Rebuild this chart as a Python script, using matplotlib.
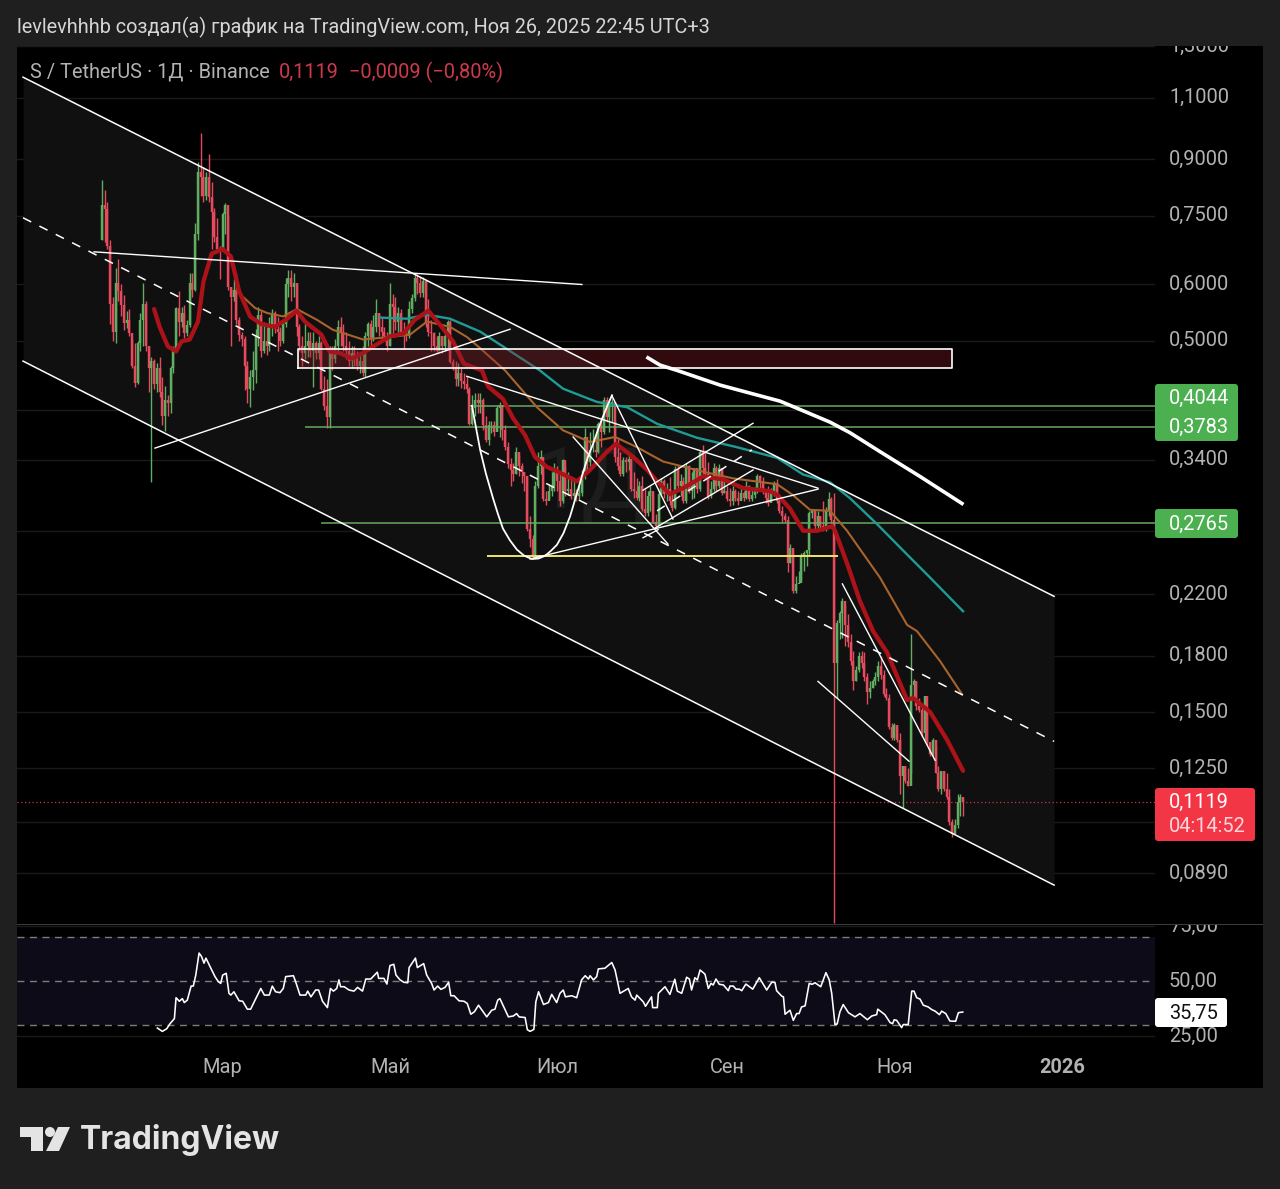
import matplotlib
matplotlib.use("Agg")
import matplotlib.pyplot as plt
import numpy as np
from matplotlib.patches import Rectangle, FancyBboxPatch, Polygon, Circle
from matplotlib.ticker import NullLocator
from matplotlib.transforms import Affine2D, Bbox, ScaledTranslation

plt.rcParams['font.family'] = ['Roboto', 'DejaVu Sans']

# ---------- data: daily candles, index 0 = 16 Jan 2025 ----------
first_open = 0.694
closes = [
 .777,.767,.679,.564,.515,.602,.587,.561,.530,.535,
 .512,.461,.436,.496,.535,.563,.491,.458,.468,.435,
 .458,.423,.392,.412,.409,.458,.483,.556,.532,.547,
 .512,.527,.602,.590,.706,.864,.850,.800,.850,.797,
 .760,.700,.673,.670,.755,.777,.596,.577,.590,.535,
 .510,.502,.461,.428,.445,.454,.507,.543,.483,.499,
 .491,.528,.547,.520,.515,.499,.528,.600,.612,.596,
 .602,.523,.491,.480,.491,.499,.483,.496,.480,.496,
 .428,.405,.390,.483,.471,.491,.523,.515,.491,.483,
 .468,.480,.471,.461,.468,.451,.507,.528,.502,.523,
 .547,.523,.515,.507,.491,.564,.558,.532,.547,.515,
 .512,.507,.554,.574,.612,.602,.583,.606,.528,.515,
 .512,.491,.483,.507,.491,.507,.532,.466,.459,.442,
 .451,.439,.435,.428,.382,.402,.412,.408,.412,.380,
 .362,.380,.381,.372,.402,.406,.374,.354,.335,.329,
 .325,.349,.333,.327,.322,.272,.263,.248,.312,.333,
 .343,.299,.297,.307,.312,.329,.317,.297,.340,.307,
 .309,.302,.305,.302,.305,.322,.366,.338,.351,.351,
 .349,.382,.372,.413,.390,.406,.410,.343,.333,.325,
 .340,.338,.341,.309,.307,.300,.312,.290,.286,.302,
 .307,.278,.274,.304,.317,.304,.309,.297,.291,.330,
 .312,.317,.297,.333,.307,.312,.331,.309,.349,.331,
 .325,.302,.309,.331,.312,.331,.305,.307,.299,.297,
 .307,.300,.297,.305,.300,.312,.299,.303,.307,.322,
 .317,.307,.300,.295,.307,.315,.297,.288,.283,.280,
 .243,.255,.222,.227,.228,.250,.251,.254,.286,.288,
 .274,.283,.274,.272,.288,.299,.280,.176,.200,.207,
 .215,.199,.188,.177,.166,.172,.180,.176,.168,.160,
 .162,.166,.168,.174,.169,.159,.157,.143,.138,.144,
 .137,.122,.126,.120,.118,.164,.166,.153,.151,.140,
 .158,.136,.131,.137,.123,.117,.124,.117,.114,.105,
 .101,.104,.112,.114,.1119]
highs = [
 .842,.814,.784,.694,.577,.633,.652,.600,.580,.551,
 .554,.503,.496,.499,.547,.602,.568,.491,.475,.471,
 .465,.475,.445,.432,.419,.461,.491,.558,.587,.558,
 .562,.535,.622,.622,.733,.893,.981,.878,.864,.915,
 .837,.770,.745,.679,.758,.782,.750,.596,.610,.622,
 .540,.515,.507,.468,.454,.483,.519,.558,.551,.532,
 .523,.540,.554,.551,.540,.523,.535,.612,.629,.629,
 .622,.602,.528,.507,.528,.515,.515,.515,.499,.507,
 .499,.446,.442,.491,.491,.502,.535,.540,.528,.515,
 .499,.491,.491,.483,.480,.491,.515,.532,.535,.543,
 .572,.547,.540,.523,.515,.602,.581,.577,.558,.554,
 .532,.523,.568,.581,.620,.620,.616,.614,.606,.572,
 .535,.515,.507,.515,.507,.515,.535,.535,.471,.468,
 .465,.457,.451,.446,.431,.419,.422,.422,.422,.415,
 .392,.386,.386,.386,.406,.410,.406,.380,.360,.342,
 .336,.354,.345,.336,.327,.323,.283,.266,.317,.349,
 .351,.336,.307,.314,.327,.336,.333,.327,.341,.333,
 .327,.322,.317,.309,.312,.329,.377,.360,.372,.375,
 .370,.384,.390,.417,.417,.413,.415,.387,.364,.349,
 .343,.343,.349,.340,.327,.320,.317,.322,.309,.307,
 .312,.305,.285,.307,.320,.319,.315,.321,.305,.333,
 .333,.325,.321,.336,.334,.327,.331,.329,.351,.357,
 .351,.338,.317,.336,.333,.335,.331,.319,.312,.310,
 .312,.309,.307,.310,.307,.317,.313,.311,.311,.325,
 .324,.321,.307,.312,.310,.317,.319,.299,.293,.286,
 .283,.259,.254,.233,.237,.251,.253,.254,.288,.290,
 .288,.288,.283,.297,.292,.306,.301,.305,.202,.208,
 .217,.212,.206,.193,.183,.174,.182,.183,.182,.170,
 .166,.167,.171,.177,.180,.172,.162,.159,.145,.145,
 .144,.140,.126,.126,.125,.193,.167,.166,.157,.153,
 .158,.149,.136,.138,.135,.126,.124,.124,.123,.117,
 .106,.106,.115,.115,.113]
lows = [
 .694,.689,.673,.528,.499,.497,.568,.541,.517,.521,
 .507,.457,.431,.435,.483,.491,.483,.423,.316,.428,
 .423,.417,.380,.373,.392,.396,.451,.483,.507,.523,
 .505,.507,.523,.577,.587,.694,.800,.784,.790,.784,
 .673,.689,.670,.610,.670,.706,.590,.491,.568,.528,
 .499,.491,.426,.408,.403,.426,.436,.491,.475,.480,
 .478,.483,.507,.512,.483,.491,.496,.523,.577,.568,
 .577,.507,.483,.461,.471,.475,.475,.431,.471,.471,
 .426,.399,.377,.377,.454,.465,.483,.491,.483,.471,
 .461,.457,.461,.454,.451,.446,.444,.491,.491,.499,
 .515,.507,.502,.499,.483,.491,.507,.518,.515,.507,
 .486,.499,.504,.547,.568,.581,.577,.577,.523,.507,
 .483,.483,.480,.483,.480,.483,.488,.465,.454,.432,
 .432,.429,.428,.422,.380,.380,.392,.396,.396,.374,
 .360,.356,.371,.367,.374,.366,.362,.351,.331,.312,
 .317,.325,.322,.315,.307,.270,.256,.246,.248,.310,
 .325,.297,.294,.300,.302,.307,.307,.293,.295,.302,
 .303,.299,.297,.297,.299,.302,.319,.329,.333,.349,
 .343,.347,.354,.370,.384,.372,.384,.338,.329,.322,
 .322,.327,.329,.307,.300,.298,.297,.288,.283,.283,
 .288,.277,.272,.274,.302,.300,.297,.294,.288,.290,
 .309,.302,.295,.295,.305,.299,.300,.305,.307,.325,
 .321,.299,.300,.307,.307,.310,.303,.305,.297,.293,
 .294,.297,.294,.298,.297,.299,.297,.297,.300,.305,
 .307,.304,.295,.293,.297,.302,.295,.286,.278,.278,
 .236,.243,.221,.221,.228,.230,.237,.241,.249,.281,
 .272,.272,.270,.270,.270,.283,.277,.0757,.157,.190,
 .191,.186,.185,.175,.161,.166,.171,.173,.166,.154,
 .157,.162,.164,.166,.167,.158,.156,.142,.137,.137,
 .136,.115,.110,.119,.118,.123,.157,.151,.150,.139,
 .137,.135,.130,.130,.123,.116,.115,.116,.113,.104,
 .100,.103,.103,.107,.107]

# moving averages (candle index, price)
ma_red_i = [19,21,24,27,29,32,35,37,40,44,47,50,54,58,63,67,71,74,80,83,87,91,95,99,105,110,114,119,123,128,132,138.6,140.8,146.2,149.9,154.3,157.9,162.3,167,173.2,178,184.2,187.5,193.7,198.8,202.4,207.1,211.9,219.2,226.5,233.8,243.6,246.5,250.9,255.7,260.8,266.2,267.3,271.7,276.4,281.2,286.3,293.6,295.8,302,308.2,314]
ma_red_p = [.554,.523,.491,.483,.499,.502,.532,.606,.663,.673,.657,.587,.541,.528,.523,.535,.551,.532,.510,.483,.480,.472,.480,.491,.507,.512,.535,.551,.528,.499,.464,.454,.431,.414,.389,.368,.343,.332,.326,.317,.329,.349,.358,.343,.329,.317,.304,.310,.322,.319,.310,.307,.303,.290,.270,.270,.274,.270,.243,.215,.195,.182,.156,.157,.150,.137,.124]
ma_brown_i = [49.2,55.8,60.2,66,71.1,78.4,84.2,95.2,105,112.3,118.5,126.9,133.1,137.9,147,158.6,168.1,178,187.1,195.1,204.6,219.2,230.1,246.2,252,258.2,265.5,271.7,283.7,293.6,297.2,305.6,313.6]
ma_brown_p = [.587,.556,.547,.541,.554,.535,.518,.502,.506,.510,.532,.523,.506,.488,.454,.403,.374,.360,.366,.354,.338,.327,.320,.314,.303,.289,.288,.270,.232,.199,.195,.177,.159]
ma_teal_i = [101.4,111.2,118.5,126.9,137.9,159.7,168.1,180.5,191.5,202.4,217,231.6,246.2,255.7,265.5,272.8,282.6,293.6,301.5,314]
ma_teal_p = [.539,.537,.544,.537,.515,.454,.428,.410,.403,.382,.365,.354,.342,.324,.316,.300,.276,.250,.233,.208]
ma_white_i = [199.1,203.5,209.8,225.4,247.3,254.6,265.5,272.8,283.7,298.3,313.6]
ma_white_p = [.473,.462,.454,.433,.411,.400,.384,.371,.349,.322,.295]

# RSI (candle index, value)
rsi_i = [20.2,22,23.6,24.8,26.4,27,28.2,29.3,30,31.1,32.5,33.3,34.2,35.4,36.3,37.2,37.9,39.1,41.2,42.4,43.3,44,45.3,46.3,47,48.1,50,51.3,53,54.2,57.9,59.2,61,62.1,63.3,64.9,66.1,67,69.8,70.6,72.2,74.3,75,76.2,77.9,79,80.4,82.2,83.3,84.4,85.6,86.4,87,88.3,90.1,91.9,93.2,95,96.2,98,100.4,100.9,102.8,103.9,105,106.4,107.2,108.7,110.1,111.5,112,114.3,115,117.3,118.4,120.2,121.1,122.4,123.6,125.1,126.4,127.2,128.4,130.2,132,133.2,134.5,135.8,137.3,140.3,142.1,143.3,144.3,145.1,148.2,150,151.2,152.1,154.3,155.1,156.1,157.5,158.2,159.2,161,162.8,164,165.8,167,168.2,169,171.3,173.1,174.9,176.2,177.4,178,
 179.2,180.4,181,183.4,185.9,187.1,188.9,191.9,193.1,194.4,195,197.4,198.2,200.4,200.8,202.5,202.9,205.3,207.1,208.9,209.8,211.4,213.2,214.2,215,216.2,217.1,218.1,219.9,221.1,222.1,222.9,223.9,225.1,226.6,228.4,229,230.2,231.2,232.4,233.3,234.8,237.3,239.7,242.4,244.2,245.4,246,247.9,248.5,249.1,250.9,252.1,253.3,254.2,255.1,256.4,257.9,259,260,262.1,264,265.2,266.1,267.3,268.1,269.1,270.3,272.2,274.6,276.4,279.1,280.7,282.5,282.9,285.5,287.4,288.3,288.9,289.8,291.6,292.2,294,295.3,296.1,297.1,298.3,299.5,301.3,302.6,303.8,305.4,306.2,307.7,309.2,311.3,312.3,313.9]
rsi_v = [28.6,27.1,28.3,30.6,32.9,42.4,40.8,42,40.2,41.3,47.7,47.7,52.7,62.7,61.1,58.1,60.4,57.3,52,49.7,48.9,52.7,53.5,44.4,43.6,45.1,41,40.8,37.2,37.2,46.6,43.6,43.6,47.7,45.1,44.7,46.6,52,52.4,49.7,43.6,43.6,45.4,42.8,45.9,45.9,40.8,37.9,46.6,45.4,46.6,50.5,47.4,47.4,45.9,45.4,47.1,45.4,50.9,50.9,54,51.2,51.2,48.6,57,57.6,52.7,50.5,49.4,49.2,56.1,60.4,56.1,57.9,52.7,48.9,45.9,47.7,46.2,47.1,49.4,43.3,43.3,41,40.8,39.8,34.9,36,39,33.7,36.7,37.2,41.3,42,33.7,34.1,35.2,33.7,33.4,27.9,27.1,28,40.5,45.1,39.3,40.2,43.9,40.2,44.4,45.9,42.8,43.3,42.4,50.5,52.4,50.9,52.4,
 50.5,52,55.5,55.8,58.4,55,44.4,46.6,42.8,41.3,43.6,40.5,38.5,42.8,37.9,37.9,44.4,47.4,43.9,50.8,45.4,44.4,51.7,50.9,45.9,51.5,50.5,55,53.1,46.6,48.9,48.2,50.9,48.5,48.2,45.6,47.7,47.7,46.3,46.3,45.6,48.6,46.3,51.5,45.9,49.4,49.4,45.6,43.1,42.8,34.9,36.7,32.1,35.2,35.2,38.2,38.7,48.9,48.5,49.2,47.4,53.8,50.5,44.4,30.2,30.5,36,39.3,35.6,33.7,35.2,32.4,34.1,34.7,37.2,34.7,31.1,30.6,32.4,32.1,28.8,30.2,30.2,45.4,45.4,42.4,41.8,39,38.2,37,36.3,34.7,36.3,35.2,31.8,31.7,35.6,35.9]

# axis values
price_ticks = [1.3, 1.1, .9, .75, .6, .5, .4, .34, .27, .22, .18, .15, .125, .105, .089]
price_labels = ['1,3000','1,1000','0,9000','0,7500','0,6000','0,5000','','0,3400','','0,2200','0,1800','0,1500','0,1250','','0,0890']
rsi_ticks = [75, 50, 25]
rsi_labels = ['75,00', '50,00', '25,00']
month_pos = [44, 105, 166, 228, 289, 350]
month_labels = ['Мар', 'Май', 'Июл', 'Сен', 'Ноя', '2026']

# drawings (candle index, price)
channel_i = [-28.8, 347.2]
channel_up = [1.175, .2183]
channel_lo = [.468, .0856]
channel_mid = [.7449, .1364]
white_lines = [
 ([-2.9, 175], [.667, .600]),
 ([19.3, 148.8], [.353, .519]),
 ([133, 261.1], [.4456, .310]),
 ([156.1, 261.1], [.2464, .309]),
 ([186, 208.2], [.418, .2806]),
 ([171.8, 206.4], [.366, .2586]),
 ([197.3, 237.4], [.308, .3826]),
 ([201.7, 237.4], [.2724, .3288]),
 ([197.3, 202.8], [.264, .271]),
 ([270, 303.8], [.2273, .1283]),
 ([261.1, 294.3], [.1657, .1279]),
]
dash_short = ([202.4, 237], [.288, .351])
cup_i = [134.9,136.4,137.9,140,142.6,144.4,146.2,148.7,151.3,154,156.8,159.2,161.6,163.7,165.9,168.3,170.7,173,175.4,177.2,179.1,181,182.7,184.4,186]
cup_p = [.405,.377,.351,.325,.300,.285,.272,.262,.254,.249,.2464,.2468,.249,.253,.258,.268,.283,.303,.326,.343,.358,.376,.391,.406,.419]
levels = [(.4044, 134), (.3783, 74), (.2765, 80)]
yellow_i, yellow_p = [140.4, 268.4], .2487
zone_i, zone_lo, zone_hi = [71.5, 310], .458, .486
last_price = .1119
rsi_last = 35.75

# ---------- figure ----------
W, H = 1280, 1189
fig = plt.figure(figsize=(W/100, H/100), dpi=100, facecolor='#1f1f1f')
PX = Affine2D().scale(1/W, -1/H).translate(0, 1) + fig.transFigure

def box(x0, y0, x1, y1, color, z=-1, r=0):
    if r:
        p = FancyBboxPatch((x0, y0), x1-x0, y1-y0, boxstyle=f'round,pad=0,rounding_size={r}',
                           fc=color, ec='none', transform=PX, zorder=z)
    else:
        p = Rectangle((x0, y0), x1-x0, y1-y0, fc=color, ec='none', transform=PX, zorder=z)
    fig.add_artist(p)

def label(x, y, s, color, size=14.4, z=7, **kw):
    fig.text(x/W, 1-(y+1)/H, s, color=color, fontsize=size, va='center', ha=kw.pop('ha', 'left'), zorder=z, **kw)

box(17, 46, 1263, 1088, '#000000')

ax = fig.add_axes([17/W, 1-924/H, 1138/W, 878/H], facecolor='black')
ax2 = fig.add_axes([17/W, 1-1050/H, 1138/W, 125/H], facecolor='black', sharex=ax)
for a in (ax, ax2):
    for s in a.spines.values():
        s.set_visible(False)
    a.set_axisbelow(True)

ax.set_yscale('log')
ax.set_xlim(-31, 384)
ax.set_ylim(.07546, 1.291)
ax.yaxis.tick_right()
ax.set_yticks(price_ticks)
ax.set_yticklabels(price_labels)
ax.yaxis.set_minor_locator(NullLocator())
ax.tick_params(axis='y', length=0, pad=10, labelsize=14.4, labelcolor='#b2b2b2')
ax.tick_params(axis='x', length=0, labelbottom=False)
ax.grid(axis='y', color='#1a1a1a', lw=1)

lift = ScaledTranslation(0, 2/100, fig.dpi_scale_trans)
clip_top = Bbox([[0, H-924], [W, H-46]])
for t in ax.get_yticklabels():
    t.set_transform(t.get_transform() + lift)
    t.set_clip_on(True)
    t.set_clip_box(clip_top)

# channel
ax.fill_between(channel_i, channel_lo, channel_up, color='#101010', lw=0, zorder=1)
ax.annotate('1Д', (590/W, 1-484/H), xycoords='figure fraction', ha='center', va='center',
            fontsize=62, color='#1d1d1d', zorder=1.6)

# candles
idx = np.arange(len(closes))
c = np.array(closes); hi = np.array(highs); lo = np.array(lows)
o = np.r_[first_open, c[:-1]]
up = c >= o
GREEN, RED = '#5fae62', '#e64b5d'
cols = np.where(up, GREEN, RED)
ax.vlines(idx, lo, hi, colors=cols, lw=1.0, zorder=3)
ax.vlines(idx, np.minimum(o, c), np.maximum(o, c), colors=cols, lw=1.75, zorder=3)

# levels
for lv, start in levels:
    ax.hlines(lv, start, 384, color='#6aa860', lw=1.1, zorder=4)
ax.hlines(yellow_p, *yellow_i, color='#ece46a', lw=1.4, zorder=4)

# moving averages
ax.plot(ma_brown_i, ma_brown_p, color='#a8642c', lw=1.5, zorder=4, solid_joinstyle='round')
ax.plot(ma_teal_i, ma_teal_p, color='#1f9c96', lw=1.7, zorder=4)
ax.plot(ma_red_i, ma_red_p, color='#ad1219', lw=3.1, zorder=4, solid_capstyle='round')
ax.plot(ma_white_i, ma_white_p, color='white', lw=2.6, zorder=5)

# zone
ax.fill_between(zone_i, zone_lo, zone_hi, facecolor='#8a1c28', alpha=.36, lw=0, zorder=4.5)
ax.plot([zone_i[0], zone_i[1], zone_i[1], zone_i[0], zone_i[0]],
        [zone_lo, zone_lo, zone_hi, zone_hi, zone_lo], color='white', lw=1.2, zorder=5)

# drawn lines
ax.plot(channel_i, channel_up, color='white', lw=1.1, zorder=5)
ax.plot(channel_i, channel_lo, color='white', lw=1.1, zorder=5)
ax.plot(channel_i, channel_mid, color='white', lw=1.1, ls=(0, (6, 6)), zorder=5)
ax.plot(*dash_short, color='white', lw=1.1, ls=(0, (6, 6)), zorder=5)
for xs, ys in white_lines:
    ax.plot(xs, ys, color='white', lw=1.0, zorder=5)
ax.plot(cup_i, cup_p, color='white', lw=1.3, zorder=5)

# last price
ax.axhline(last_price, color='#c9394a', lw=.9, ls=(0, (1, 2)), zorder=2.5)

# RSI pane
ax2.set_ylim(18.64, 75.45)
ax2.yaxis.tick_right()
ax2.set_yticks(rsi_ticks)
ax2.set_yticklabels(rsi_labels)
ax2.tick_params(axis='y', length=0, pad=10, labelsize=14.4, labelcolor='#b2b2b2')
ax2.grid(axis='y', color='#1a1a1a', lw=1)
for t in ax2.get_yticklabels():
    t.set_transform(t.get_transform() + lift)
    t.set_clip_on(True)
    t.set_clip_box(Bbox([[0, H-1088], [W, H-925]]))
ax2.axhspan(30, 70, color='#0e0b18', lw=0, zorder=1)
for v in (70, 50, 30):
    ax2.axhline(v, color='#7c7c7c', lw=1, ls=(0, (5, 4)), zorder=2)
ax2.plot(rsi_i, rsi_v, color='white', lw=1.15, zorder=3)
ax2.set_xticks(month_pos)
ax2.set_xticklabels(month_labels)
ax2.tick_params(axis='x', length=0, pad=5.5, labelsize=14.4, labelcolor='#b2b2b2')
ax2.get_xticklabels()[-1].set_fontweight('bold')

# divider
box(17, 924, 1263, 925, '#3c3c3c', z=4)

# badges
box(1155, 384, 1238, 441, '#4caf50', z=5, r=3)
box(1155, 509, 1238, 538, '#4caf50', z=5, r=3)
box(1155, 788, 1255, 841, '#f23645', z=5, r=3)
box(1155, 998, 1227, 1027, '#ffffff', z=5, r=3)
label(1169, 397, '0,4044', 'white')
label(1169, 426, '0,3783', 'white')
label(1169, 523, '0,2765', 'white')
label(1169, 801, '0,1119', 'white')
label(1169, 825, '04:14:52', '#ffd6da')
label(1169, 1012, '35,75', '#111111')

# header and legend
label(17, 26, 'levlevhhhb создал(а) график на TradingView.com, Ноя 26, 2025 22:45 UTC+3', '#d6d6d6', size=14.33)
label(30, 71, 'S / TetherUS · 1Д · Binance', '#b2b2b2', size=14.4)
label(279, 71, '0,1119', '#cc3a4b', size=14.4)
label(349, 71, '−0,0009 (−0,80%)', '#cc3a4b', size=14.4)

# footer logo
fig.add_artist(Polygon([(20,1127),(43,1127),(43,1151),(31,1151),(31,1137),(20,1137)], closed=True, fc='#e4e4e4', ec='none', transform=PX))
fig.add_artist(Circle((50,1132), 5, fc='#e4e4e4', ec='none', transform=PX))
fig.add_artist(Polygon([(58,1127),(70,1127),(59,1151),(46,1151)], closed=True, fc='#e4e4e4', ec='none', transform=PX))
label(80, 1139, 'TradingView', '#e4e4e4', size=23, fontweight='bold', family=['Inter', 'DejaVu Sans'])

fig.savefig('out.png', dpi=100, facecolor=fig.get_facecolor())
